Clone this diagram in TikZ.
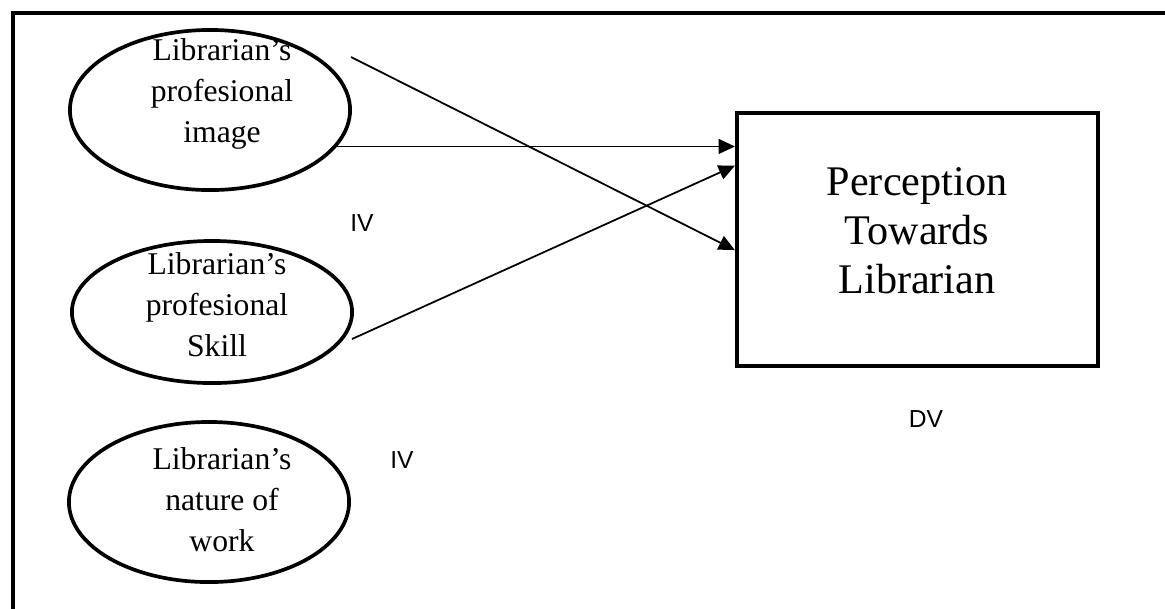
\documentclass[tikz,border=0pt]{standalone}
\usepackage{fontspec}
\setmainfont{Liberation Serif}
\setsansfont{Liberation Sans}
\usepackage{tikz}
\usetikzlibrary{calc, arrows.meta, shapes.geometric, positioning}
\tikzset{
    ellipsenode/.style = {draw, ellipse, line width=1.05pt, inner sep = 0em, minimum width=2.8cm},
    rectanglenode/.style = {draw, rectangle, line width=1.15pt, inner sep = 0em},
    textnode/.style  = {draw=none, fill=none, rectangle, inner sep = 0em, font=\fontsize{9}{11.7}\selectfont},
    bigtextnode/.style  = {draw=none, fill=none, rectangle, inner sep = 0em, font=\fontsize{12}{13.9}\selectfont},
    smalltextnode/.style  = {draw=none, fill=none, rectangle, inner sep = 0em, font=\sffamily\fontsize{7}{8}\selectfont},
    connect/.style = {black, line width=0.5pt, -{Triangle[length=4.6pt, width=4.2pt]}},
    every text node part/.style={align=center}
}

\begin{document}
\begin{tikzpicture}[x=0.01cm, y=-0.01cm]
    \useasboundingbox (0,0) rectangle (1165,608);
    % frame
    \draw[line width=1.3pt] (13,620) -- (13,13) -- (1175,13);

    % independent variables
    \node [name=image, ellipsenode, minimum height=1.6cm] at (210,110) {};
    \node [name=skill, ellipsenode, minimum height=1.42cm] at (212,312) {};
    \node [name=work, ellipsenode, minimum height=1.6cm] at (209,502) {};

    \node [name=imagetext, textnode] at (222,94) {Librarian’s\\profesional\\image};
    \node [name=skilltext, textnode] at (217,305) {Librarian’s\\profesional\\Skill};
    \node [name=worktext, textnode] at (222,500) {Librarian’s\\nature of\\work};

    % dependent variable
    \node [name=percep, rectanglenode, minimum width=3.61cm, minimum height=2.53cm] at (917.5,239.5) {};
    \node [name=perceptext, bigtextnode] at (917,231) {Perception\\Towards\\Librarian};

    \node [name=iva, smalltextnode] at (362,223) {IV};
    \node [name=ivb, smalltextnode] at (402,460) {IV};
    \node [name=dv, smalltextnode] at (926,419) {DV};

    % connectors
    \coordinate (imagestart) at (351,57);
    \coordinate (skillstart) at (352,339);
    \draw[connect] (image.-16) -- (image.-16 -| percep.west);
    \draw[connect] (imagestart) -- ([yshift=-3]percep.west);
    \draw[connect] (skillstart) -- ($(percep.north west)!0.213!(percep.south west)$);
\end{tikzpicture}
\end{document}
